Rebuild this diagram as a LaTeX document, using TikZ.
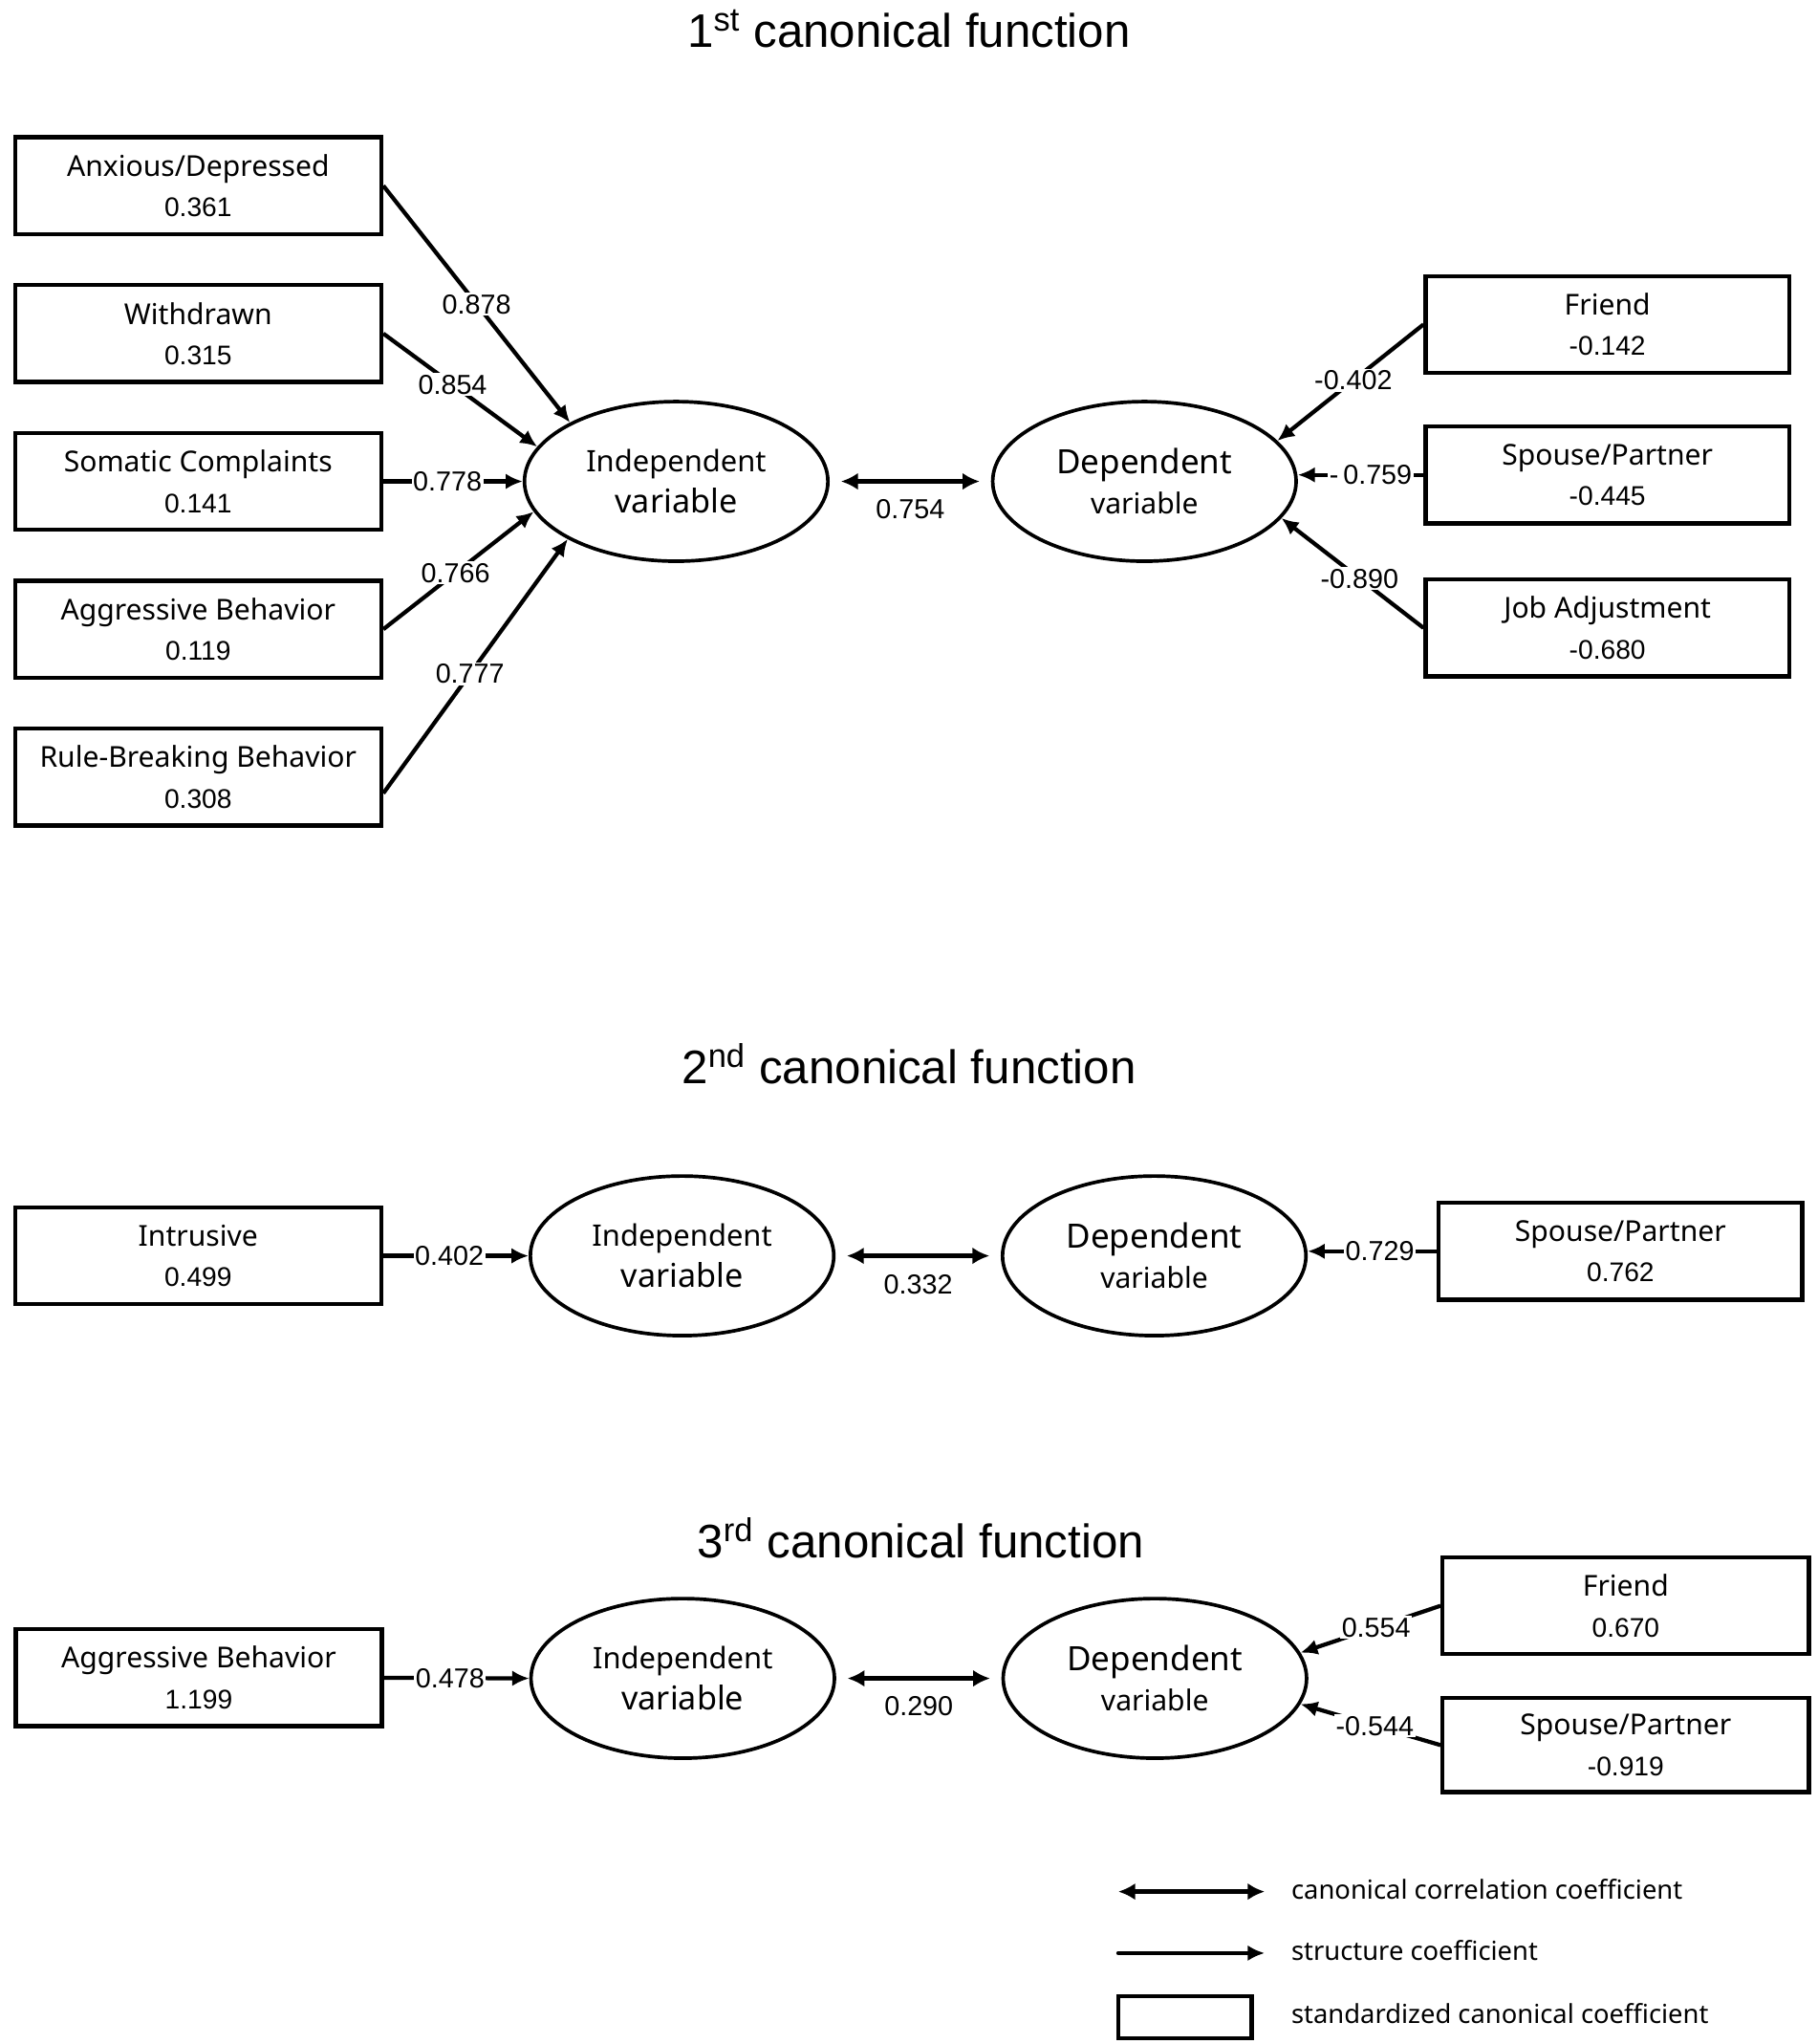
\documentclass[tikz,border=0pt]{standalone}
\usepackage{fontspec}
\setmainfont{Liberation Sans}
\newfontfamily\lblfont{Noto Sans}
\usetikzlibrary{arrows.meta,shapes.geometric}
\tikzset{
  box/.style={draw, line width=1.6pt, minimum width=140pt, minimum height=37pt, inner sep=0pt, align=center,
    font=\lblfont\fontsize{11}{15.5}\selectfont},
  latent/.style={ellipse, draw, line width=1.35pt, minimum width=116pt, minimum height=61pt, inner sep=0pt, align=center,
    font=\lblfont\fontsize{11}{15.5}\selectfont},
  conn/.style={line width=1.55pt, -{Latex[length=6.5pt,width=6pt]}},
  dbl/.style={line width=1.9pt, {Latex[length=6.5pt,width=6.5pt]}-{Latex[length=6.5pt,width=6.5pt]}, shorten <=4.3pt, shorten >=4.3pt},
  lab/.style={fill=white, inner sep=0.6pt, font=\fontsize{10.5}{12}\selectfont},
  ttl/.style={font=\fontsize{18}{20}\selectfont},
  leg/.style={anchor=west, inner sep=0pt, font=\lblfont\fontsize{10}{12}\selectfont}
}
\newcommand{\numf}{\rmfamily\fontsize{10.3}{15.5}\selectfont}
\newcommand{\indtxt}{\fontsize{11.3}{15.5}\selectfont Independent\\\fontsize{12.5}{15.5}\selectfont variable}
\newcommand{\deptxt}{\fontsize{12.8}{15.5}\selectfont Dependent\\\fontsize{11}{15.5}\selectfont variable}
\begin{document}
\begin{tikzpicture}[x=0.5pt,y=-0.5pt]
\useasboundingbox (0,0) rectangle (1390,1562.5);
% ---------- 1st function ----------
\node[ttl] (t1) at (695,22) {1\textsuperscript{st} canonical function};
\node[box] (a1) at (151.5,142) {Anxious/Depressed\\\numf 0.361};
\node[box] (a2) at (151.5,255) {Withdrawn\\\numf 0.315};
\node[box] (a3) at (151.5,368) {Somatic Complaints\\\numf 0.141};
\node[box] (a4) at (151.5,481) {Aggressive Behavior\\\numf 0.119};
\node[box] (a5) at (151.5,594) {Rule-Breaking Behavior\\\numf 0.308};
\node[latent] (iv1) at (517,368) {\indtxt};
\node[latent] (dv1) at (875,368) {\deptxt};
\node[box, minimum width=139pt] (f1) at (1229,248) {Friend\\\numf -0.142};
\node[box, minimum width=139pt] (s1) at (1229,363) {Spouse/Partner\\\numf -0.445};
\node[box, minimum width=139pt] (j1) at (1229,480) {Job Adjustment\\\numf -0.680};
\draw[conn] (a1.east) -- node[lab,pos=0.5] {0.878} (iv1.151.5);
\draw[conn] (a2.east) -- node[lab,pos=0.45] {0.854} (iv1.166.8);
\draw[conn] (a3.east) -- node[lab,pos=0.46] {0.778} (iv1.west);
\draw[conn] (a4.east) -- node[lab,pos=0.48] {0.766} (iv1.192.6);
\draw[conn] (a5.-5) -- node[lab,pos=0.47] {0.777} (iv1.208);
\draw[dbl] (iv1.east) -- node[midway,yshift=-10.5pt,lab] {0.754} (dv1.west);
\draw[conn] (f1.west) -- node[lab,pos=0.48] {-0.402} (dv1.17.7);
\draw[conn] (s1.west) -- node[lab,pos=0.42] {-\,0.759} (dv1.east |- s1.west);
\draw[conn] (j1.west) -- node[lab,pos=0.45] {-0.890} (dv1.345.6);
% ---------- 2nd function ----------
\node[ttl] (t2) at (695,813) {2\textsuperscript{nd} canonical function};
\node[box] (i2) at (151.5,960) {Intrusive\\\numf 0.499};
\node[latent] (iv2) at (521.5,960) {\indtxt};
\node[latent] (dv2) at (882.5,960) {\deptxt};
\node[box, minimum width=139pt] (s2) at (1239,956.5) {Spouse/Partner\\\numf 0.762};
\draw[conn] (i2.east) -- node[lab,pos=0.455] {0.402} (iv2.west);
\draw[dbl] (iv2.east) -- node[midway,yshift=-11pt,lab] {0.332} (dv2.west);
\draw[conn] (s2.west) -- node[lab,pos=0.44] {0.729} (dv2.east |- s2.west);
% ---------- 3rd function ----------
\node[ttl] (t3) at (704,1176) {3\textsuperscript{rd} canonical function};
\node[box] (g3) at (152,1282.5) {Aggressive Behavior\\\numf 1.199};
\node[latent] (iv3) at (522,1283) {\indtxt};
\node[latent] (dv3) at (883,1283) {\deptxt};
\node[box] (f3) at (1243,1227.5) {Friend\\\numf 0.670};
\node[box, minimum height=36pt] (s3) at (1243,1334) {Spouse/Partner\\\numf -0.919};
\draw[conn] (g3.east) -- node[lab,pos=0.455] {0.478} (iv3.west);
\draw[dbl] (iv3.east) -- node[midway,yshift=-10.5pt,lab] {0.290} (dv3.west);
\draw[conn] (f3.west) -- node[lab,pos=0.46] {0.554} (dv3.10.8);
\draw[conn] (s3.west) -- node[lab,pos=0.47] {-0.544} (dv3.-10);
% ---------- legend ----------
\coordinate (l1a) at (855,1446); \coordinate (l1b) at (967,1446);
\coordinate (l2a) at (855,1493); \coordinate (l2b) at (967,1493);
\draw[line width=1.9pt, {Latex[length=6.5pt,width=6.5pt]}-{Latex[length=6.5pt,width=6.5pt]}] (l1a) -- (l1b);
\draw[conn, line cap=round] (l2a) -- (l2b);
\node[draw, line width=1.6pt, minimum width=51pt, minimum height=16pt, inner sep=0pt] (lbox) at (906,1542) {};
\node[leg] (lt1) at (987,1444) {canonical correlation coefficient};
\node[leg] (lt2) at (987,1491) {structure coefficient};
\node[leg] (lt3) at (987,1539) {standardized canonical coefficient};
\end{tikzpicture}
\end{document}
